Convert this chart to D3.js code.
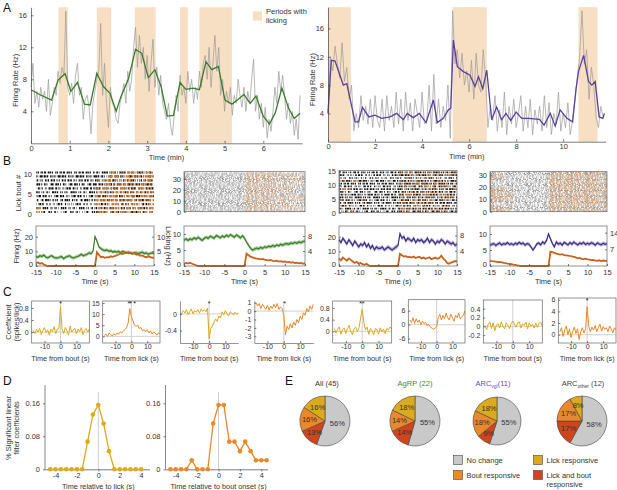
<!DOCTYPE html>
<html>
<head>
<meta charset="utf-8">
<script src="https://cdn.jsdelivr.net/npm/d3@7"></script>
<style>
body { margin: 0; background: #fff; }
svg { font-family: "Liberation Sans", Arial, sans-serif; }
</style>
</head>
<body>
<script>

// ---------- A: firing rate over a session
const aLickLeft = [[0.71, 0.95], [1.70, 2.07], [2.68, 3.22], [3.85, 4.05], [4.35, 5.19]]
const aLickRight = [[0, 0.97], [5.30, 6.75], [10.65, 11.46]]
// raw rate, one value every 0.05 min
const aRawLeft = [7,10,5,6.5,4.5,7,5.5,6.5,4,8, 3.5,5,7,6,9,7.5,9.5,8.5,16.5,7,
    6,7.5,5,8.5,10,6,7,3,5.5,6, 4.5,1.2,5,6.5,8,9,15,6,10,5,
    2,7,5,4.5,3,2.5,5,6,7.5,5, 9,6.5,8,12,14.5,9.5,13.5,10,12,8,
    11,6.5,10,13,7,9.5,6,8.5,5,4, 3,5,2.5,1,3.5,6,4,8.5,6,7,
    5,9,6.5,8,5,7,5.5,9,7,10, 11,8,12,7,10,13.5,9,12,6,8,
    4,6.5,5,7,3.5,6,5,8,6,4.5, 7,4,6.5,5,8,10.5,4,6,3,5,
    2,4.5,0.7,3,1.5,4,7,5,9,6.5, 8.5,6,3,5,2.5,4,1,3,0.5,6]
// raw rate, one value every 0.1 min
const aRawRight = [4,12,10,13.5,11,9,14,8.5,10.5,6, 8,1.5,4,2,6.5,3,5,2.5,6,2,
    6.5,3,2,6,1.5,6.5,3,5,2,7, 2.5,6,1.5,7,3,5.5,1.5,6,4,2,
    7,2.5,3,8,1.5,9.5,2.5,6,2,5, 3,8,0.5,18.5,11,13,9,12.5,8,10,
    7,11.5,6,12.5,8,7,13,9,2,5, 3,6.5,1.5,4.5,2,7,1,5,2.5,6,
    2,4,6.5,1.5,5,2,6,1,4.5,2.5, 5,1.5,6.5,2,5.5,1,4,2.5,7,1.5,
    4,2,5.5,1,3,6,9,12,18.5,11, 13,6,10.5,8,3.5,2,5,3.5]
const aSmoothLeftT = [0,0.22,0.53,0.7,0.88,1.03,1.2,1.38,1.53,1.7,1.87,2.04,2.2,2.32,2.52,2.7,2.86,3.03,3.2,3.36,3.52,3.68,3.85,4.0,4.19,4.35,4.52,4.67,4.84,5.01,5.19,5.33,5.5,5.66,5.81,6.0,6.16,6.31,6.48,6.65,6.8,6.95]
const aSmoothLeftHz = [6.7,6.1,5.4,7.9,8.7,6.5,7.6,4.9,4.8,8.75,7.1,6.25,4.0,5.8,8.1,11.75,11.25,8.2,9.2,7.1,3.4,3.5,7.6,6.75,6.9,6.7,10.2,9.2,9.6,5.4,4.9,5.4,6.1,5.0,5.9,3.4,2.4,3.8,6.9,4.4,3.1,3.75]
const aSmoothRightT = [0,0.14,0.3,0.65,0.8,1.15,1.3,1.46,1.74,2.0,2.28,2.64,2.92,3.2,3.37,3.63,3.88,4.17,4.48,4.65,4.9,5.12,5.22,5.33,5.5,5.76,6.04,6.25,6.4,6.58,6.75,6.96,7.17,7.38,7.57,7.77,8.0,8.24,8.52,8.99,9.19,9.45,9.66,9.87,10.16,10.4,10.55,10.65,10.87,11.08,11.22,11.36,11.53,11.69,11.75]
const aSmoothRightHz = [4.0,11.5,11.4,8.0,8.2,2.8,2.8,4.85,3.5,3.75,3.3,3.5,4.0,3.1,4.0,3.4,4.0,2.7,5.9,2.7,3.3,4.5,4.7,14.35,10.6,9.9,9.4,7.8,9.2,7.5,10.1,3.1,4.9,3.1,4.0,3.0,4.2,3.3,3.3,3.15,2.35,4.0,2.2,4.5,3.3,2.8,7.5,9.9,12.2,8.5,8.0,8.5,3.5,3.3,4.0]

// ---------- B: rasters (per row: ink density of spikes, lick bout start/end, licks before bout)
const b1SpikePre = [0.45,0.5,0.45,0.6,0.55,0.5,0.65,0.6,0.55,0.7,0.65]
const b1SpikePost = [0.5,0.55,0.45,0.6,0.6,0.55,0.65,0.6,0.6,0.65,0.6]
const b1Start = [0,0.5,0,0.5,0,1,0,2,0.5,3,4]
const b1End = [15,15,15,15,15,15,15,15,15,15,15]
const b1Lead = [-12.5,-13.5,-15,-15,-15,-15,-15,-15,-15,-15,-15]
const b2Spike = [0.6, 0.5]
const b2Start = [0,0,0.3,0,0,0.5,0,0,0,0.2,0,0,0,0.4,0,0,0,0,0.3,0,0,0,0,0.5,0,0,0,0,0.2,0,0,0,0.3,0,0,0]
const b2End = [15,9,15,6,12,15,8,15,11,5,15,14,7,15,10,15,13,6,15,9,15,12,15,8,15,11,4,15,10,15,14,7,15,12,15,9]
const b2Lead = [-15,-15,-15,-13,-15,-15,-15,-15,-15,-15,-15,-15,-15,-15,-15,-15,-15,-13,-15,-15,-15,-15,-15,-15,-15,-15,-15,-15,-15,-13,-15,-15,-15,-15,-15,-15]
const b3SpikePre = [0.55,0.6,0.5,0.65,0.55,0.6,0.7,0.5,0.6,0.55,0.65,0.6,0.5,0.6,0.55]
const b3SpikePost = [0.6,0.65,0.55,0.7,0.6,0.65,0.7,0.55,0.65,0.6,0.7,0.65,0.55,0.65,0.6]
const b3Start = [0,0,0.5,0,1,0,0,2,0,0.5,0,0,1.5,0,0]
const b3End = [15,12,15,9,15,14,15,11,15,15,13,15,10,15,15]
const b3Lead = [-10,-15,-12,-15,-8,-15,-13,-15,-11,-15,-15,-9,-15,-14,-15]
const b4Spike = [0.55, 0.55]
const b4Start = [0,0,0,0,0,0,0,0,0,0,0,0,0,0,0,0,0,0,0,0,0,0,0,0,0,0,0,0,0,0,0,0,0]
const b4End = [15,15,14,15,15,12,15,15,15,13,15,15,15,15,11,15,15,15,14,15,15,15,15,15,12,15,15,15,15,13,15,15,15]
const b4Lead = [-10,-11,-9,-10,-12,-15,-15,-15,-9,-10,-9.5,-11,-9,-10,-9,-12,-10,-9,-11,-10,-15,-15,-15,-15,-15,-15,-11,-12,-10,-11,-12,-15,-15]

// ---------- B: mean firing and licking, one value every 0.5 s from -15 to 15
const bRate1 = [6.5,6,7,6.5,7.5,6,5.5,6.5,7,6,5.5, 5.5,6,6.5,5,6,6.5,7,6,5.5,6, 6.5,7,8,7,7.5,8,9,8.5,10,20, 17,13,12,11,10.5,11,10,10.5,9.5,10, 9.5,10,9,10,9.5,9,9.5,9,8.5,9, 9,8.5,9,9.5,8.5,9,8,8.5,9,8.5]
const bLick1 = [1,1.2,0.8,1,0.5,0.2,0,0,0,0,0, 0,0,0,0,0,0,0,0,0,0, 0,0,0,0,0,0,0,0,0,0, 4.7,3.8,3,3.2,2.8,3,2.9,3.3,3.1,3.4, 3.6,3.9,4.3,4.1,4.4,4.6,4.3,4.5,4.2,4.4, 3.8,4,3.5,3.6,3.2,3,3.3,3.1,2.8,2.9]
const bRate2 = [8,8.5,8,8.5,8.2,8.8,8.4,9,8.5,8,8.6, 9,8.6,9.3,9,8.7,9.5,9.2,8.8,9.4,9, 9.6,9.2,9.8,9.4,9,9.7,9.3,8.8,9.5,8.7, 7.5,6.5,5.5,5,5.3,5.6,5.4,5.8,5.5,6, 5.8,6.2,6,6.4,6.1,6.6,6.3,6.8,6.5,6.9, 7,6.8,7.2,7,7.4,7.1,7.5,7.3,7.6,7.8]
const bLick2 = [0.6,0.8,0.7,0.9,0.6,0.4,0.2,0,0,0,0, 0,0,0,0,0,0,0,0,0,0, 0,0,0,0,0,0,0,0,0,0, 3.3,2.9,2.5,2.3,2.1,2,1.9,1.8,1.9,1.7, 1.6,1.5,1.6,1.4,1.3,1.4,1.2,1.3,1.1,1.2, 1,1.1,0.9,1,0.8,0.9,0.7,0.8,0.6,0.7]
const bRate3 = [18,16,19,17,15,18,16,14,17,15,13, 15,14,16,13,15,12,14,11,13,12, 12,13,11,12,13,12,11,12,13,14, 22,19,20,17,19,18,17,19,16,18, 17,18,16,17,19,16,18,17,15,17, 16,18,17,15,17,16,15,16,14,15]
const bLick3 = [2,1.5,2.2,1.8,1.4,2,1.6,1.2,0.8,1.1,0.6, 0.8,0.5,0.3,0.6,0.2,0,0,0,0,0, 0,0,0,0,0,0,0,0,0,0, 3.2,2.8,2.5,2.6,2.3,2.4,2.2,2.5,2.1,2.3, 2.4,2,2.2,1.9,2.1,2.3,1.8,2,2.2,1.9, 2.1,2.7,2,1.5,0.8,0.6,0.9,1.1,1.3,1.2]
const bRate4 = [6.5,6.8,7,6.4,6.9,7.2,6.6,7,6.8,7.3,6.7, 7,6.6,7.1,6.8,7.4,6.9,7.2,6.5,7,6.8, 6,5,5.8,6.9,7.2,6.6,7.5,7,8,10, 8.5,7,6,7.5,6.8,7.2,6.5,7.4,7,6.6, 7.3,6.8,7.5,7,6.6,7.2,6.9,7.4,6.7,7.1, 6.8,7.3,7,6.5,7.2,6.9,6.6,7.1,6.8,7]
const bLick4 = [2.2,2,1.9,1.8,1.6,1.7,1.5,1.3,1.2,1,0.9, 0.8,0.6,0.5,0.3,0.2,0,0,0,0,0, 0,0,0,0,0,0,0,0,0,0, 6,5.8,5.5,5.2,5,4.8,5,4.6,4.5,4.4, 4.2,4,3.8,3.6,3.2,3.4,3,2.9,3.1,2.8, 2.7,2.5,2.6,2.3,2.2,2.4,2.1,2.3,2.2,2]
const bSem = [1.2, 0.6, 1.5, 0.6]

// ---------- C: linear filter coefficients, one value per second from -17 to 18
const c1 = [0.05,-0.05,0.1,0,0.12,-0.08,0.05,0.15,-0.02,0.08,-0.1,0.1,0.02,0.18,-0.05,0.1,0.12,0.85,0.1,-0.05,0.15,0.05,-0.1,0.2,0,0.08,0.12,-0.05,0.1,0.02,0.15,-0.08,0.05,0.12,0,0.1]
const c2 = [0.5,1,0,1.5,0.8,0.2,1.2,0.5,1.5,1,2,1.5,2.5,3,4,6,12.5,9,7,5,4.5,5,3.5,4,2.5,3,2,3,1.5,2.5,1,2,1.5,0.5,1.5,1]
const c3 = [0,0.08,0.02,0.1,-0.02,0.06,0.12,0,0.08,0.04,0.1,0.02,0.12,0.06,0.1,0.05,0.14,-0.6,-0.35,-0.3,-0.2,-0.12,-0.18,-0.05,-0.1,0.05,-0.02,0.08,0,-0.05,0.05,0.02,-0.03,0.04,0,0.02]
const c4 = [1,0.6,0.9,0.3,0.8,0.5,0.2,0.7,0.1,0.6,0.3,0.8,0.4,0.9,0.2,0.5,0.3,-0.5,-2.8,-1.8,-2.2,-1.5,-2,-1.3,-1.7,-1,-1.4,-0.6,-1,-0.2,-0.5,0.3,-0.1,0.6,0.2,0.8]
const c5 = [0.1,-0.05,0.08,0.15,-0.1,0.05,0.12,-0.08,0.1,0.2,0,-0.12,0.08,0.15,0,0.1,0.45,0.75,0.3,0.05,0.15,-0.1,0.1,0.02,-0.12,0.1,0.05,-0.1,0.12,-0.02,0.08,-0.08,0.1,0.05,0.15,0.08]
const c6 = [2,1,3,0.5,2.5,1,2,0,1.5,0.5,1,-0.5,0,-1,-1.5,-2,-1.5,-1,3,4.5,2,4,2.5,5,3,2,4.5,3,1.5,4,3,5,2.5,3.5,4,6]
const c7 = [0.02,-0.08,0.05,0.1,-0.05,0.08,-0.1,0.03,0.06,-0.04,0.1,0,-0.06,0.08,0.02,-0.05,0.06,0.12,0.05,-0.02,0.08,0.1,-0.04,0.06,0.02,0.1,-0.06,0.08,0,0.05,-0.04,0.07,-0.02,0.06,0.1,0]
const c8 = [0.5,1.2,-0.3,0.8,1.5,0,1,-0.5,0.6,1.3,0.2,1,-0.8,0.5,1.2,0.3,1,4.8,1.5,0.5,1.3,0.8,1.6,0.5,1.2,1.8,0.6,1.4,0.9,1.2,0.5,1.5,1,0.3,1.2,0.8]

// ---------- D: fraction of significant coefficients
const dLickT = [-4.5,-4,-3.5,-3,-2.5,-2,-1.5,-1,-0.5,0,0.5,1,1.5,2,2.5,3,3.5,4]
const dLickV = [0,0,0,0,0,0,0,0.067,0.133,0.156,0.111,0.044,0,0,0,0,0,0]
const dBoutT = [-4.5,-4,-3.5,-3,-2.5,-2,-1.5,-1,-0.5,0,0.5,1,1.5,2,2.5,3,3.5,4,4.5]
const dBoutV = [0,0,0,0,0.022,0,0,0,0.111,0.156,0.156,0.067,0.067,0.044,0.067,0.044,0.022,0.022,0.022]

// ---------- E: pies (no change, lick and bout, bout, lick)
const eCategories = ['No change', 'Lick and bout responsive', 'Bout responsive', 'Lick responsive']
const eAll = [56, 13, 16, 16]
const eAgrp = [55, 14, 14, 18]
const eVglut = [55, 9, 18, 18]
const eOther = [58, 17, 17, 8]

const GOLD = '#dcaa1e', ORANGE = '#e8892b', RED = '#cf451d', GREY = '#c9c9c9'
const GREEN = '#3b7a2c', PURPLE = '#3e2d80', LICK = '#c8621c'
const FONT = '"Liberation Sans", Arial, sans-serif'

const svg = d3.select('body').append('svg').attr('width', 617).attr('height', 490)
svg.append('rect').attr('width', 617).attr('height', 490).attr('fill', '#fff')

function styleAxis(g, fs) {
    g.attr('font-family', FONT).attr('font-size', fs || 7)
    g.selectAll('.domain').attr('stroke', '#444').attr('stroke-width', 0.7)
    g.selectAll('.tick line').attr('stroke', '#444').attr('stroke-width', 0.7)
    g.selectAll('.tick text').attr('fill', '#333')
    return g
}
function text(x, y, s, o) {
    o = o || {}
    const t = svg.append('text').attr('x', x).attr('y', y).text(s)
        .attr('font-size', o.size || 7.5).attr('fill', o.fill || '#333')
        .attr('text-anchor', o.anchor || 'middle')
    if (o.rot) t.attr('transform', `rotate(${o.rot},${x},${y})`)
    return t
}
const fmt = d => String(d)

// ================= panel A
text(3, 12, 'A', { size: 12, anchor: 'start', fill: '#111' })

function drawSession(o) {
    const x = d3.scaleLinear([0, o.xMax], [o.x0, o.x1])
    const y = d3.scaleLinear([0, o.yMax], [o.y0, o.y1])
    const g = svg.append('g')
    g.selectAll('rect').data(o.licks).enter().append('rect')
        .attr('x', d => x(d[0])).attr('width', d => x(d[1]) - x(d[0]))
        .attr('y', o.y1).attr('height', o.y0 - o.y1).attr('fill', '#f7dfc3')
    g.append('path').datum(o.raw)
        .attr('d', d3.line().x((d, i) => x(i * o.step)).y(d => y(d)))
        .attr('fill', 'none').attr('stroke', '#9a9a9a').attr('stroke-width', 0.7)
    g.append('path').datum(o.smoothT)
        .attr('d', d3.line().x(d => x(d)).y((d, i) => y(o.smoothHz[i])))
        .attr('fill', 'none').attr('stroke', o.color).attr('stroke-width', 1.3)
    styleAxis(g.append('g').attr('transform', `translate(0,${o.y0})`)
        .call(d3.axisBottom(x).tickValues(o.xTicks).tickFormat(fmt).tickSize(-2.5).tickSizeOuter(0).tickPadding(2)), 7.5)
    styleAxis(g.append('g').attr('transform', `translate(${o.x0},0)`)
        .call(d3.axisLeft(y).tickValues([4, 8, 12, 16]).tickFormat(fmt).tickSize(-2.5).tickSizeOuter(0).tickPadding(4)), 7.5)
    text(o.x0 - 13, (o.y0 + o.y1) / 2 + 5, 'Firing Rate (Hz)', { rot: -90, size: 7.5 })
    text((o.x0 + o.x1) / 2, o.y0 + 17, 'Time (min)', { size: 7.5 })
}
drawSession({ x0: 31, x1: 302, xMax: 7, y0: 143.3, y1: 7.3, yMax: 17, licks: aLickLeft, raw: aRawLeft, step: 0.05,
    smoothT: aSmoothLeftT, smoothHz: aSmoothLeftHz, color: GREEN, xTicks: [0, 1, 2, 3, 4, 5, 6] })
drawSession({ x0: 328, x1: 605.5, xMax: 11.8, y0: 141.7, y1: 7.2, yMax: 19, licks: aLickRight, raw: aRawRight, step: 0.1,
    smoothT: aSmoothRightT, smoothHz: aSmoothRightHz, color: '#5b3f98', xTicks: [0, 2, 4, 6, 8, 10] })

svg.append('rect').attr('x', 253).attr('y', 11.5).attr('width', 9).attr('height', 9).attr('fill', '#f7dfc3')
text(266, 14, 'Periods with', { anchor: 'start', size: 7.5 })
text(266, 23, 'licking', { anchor: 'start', size: 7.5 })

// ================= panel B
text(3, 165, 'B', { size: 12, anchor: 'start', fill: '#111' })

// irregular dash lengths so that the rows read as scattered ticks, not a grid
const texture = [0.9, 2.3, 1.4, 0.6, 3.1, 1.8, 0.7, 2.6, 1.2, 4.0, 0.8, 1.9, 2.9, 1.1, 0.5, 2.2]
function ink(g, x, y, a, b, fill, color, w, seed) {
    if (b <= a || fill <= 0) return
    const dash = []
    for (let k = 0; k < 8; k++) {
        const d = texture[(seed * 5 + k * 3) % 16] * fill * 1.1
        const gp = texture[(seed * 3 + k * 7 + 4) % 16] * (1 - fill) * 1.6
        dash.push(Math.max(0.45, d).toFixed(2), Math.max(0.3, gp).toFixed(2))
    }
    g.append('line').attr('x1', x(a)).attr('x2', x(b)).attr('y1', y).attr('y2', y)
        .attr('stroke', color).attr('stroke-width', w)
        .attr('stroke-dasharray', dash.join(' '))
        .attr('stroke-dashoffset', (seed * 2.7) % 11)
}

function drawRaster(o) {
    const x = d3.scaleLinear([-15, 15], [o.x0, o.x1])
    const y = d3.scaleLinear([0, o.yMax], [o.y0, o.y1])
    const g = svg.append('g')
    const n = o.start.length
    const rowH = Math.min(2.2, (o.y0 - o.y1) / o.yMax * o.rowFill)
    for (let i = 0; i < n; i++) {
        const yy = y(i + 0.5)
        const pre = o.pre[i] !== undefined ? o.pre[i] : o.pre[0]
        const post = o.post[i] !== undefined ? o.post[i] : o.post[0]
        ink(g, x, yy, -15, 0, pre, o.spikeColor, rowH, i)
        ink(g, x, yy, 0, 15, post, o.spikeColor, rowH, i + 7)
        if (o.lead[i] > -15) ink(g, x, yy, -15, o.lead[i], o.lickFill, o.lickColor, rowH, i + 3)
        ink(g, x, yy, o.start[i], o.end[i], o.lickFill, o.lickColor, rowH, i + 11)
    }
    if (o.frame) g.append('rect').attr('x', o.x0).attr('y', o.y1).attr('width', o.x1 - o.x0).attr('height', o.y0 - o.y1)
        .attr('fill', 'none').attr('stroke', '#666').attr('stroke-width', 0.7)
    styleAxis(g.append('g').attr('transform', `translate(${o.x0 - (o.frame ? 0 : 1)},0)`)
        .call(d3.axisLeft(y).tickValues(o.ticks).tickFormat(fmt).tickSize(o.frame ? -2 : 0).tickSizeOuter(0).tickPadding(3)), 7.5)
        .select('.domain').attr('stroke', o.frame ? '#666' : 'none')
}

drawRaster({ x0: 36, x1: 154, y0: 214, y1: 170.5, yMax: 11, ticks: [0, 5, 10], pre: b1SpikePre, post: b1SpikePost, rowFill: 0.62,
    start: b1Start, end: b1End, lead: b1Lead, spikeColor: '#111', lickColor: '#d27a36', lickFill: 0.55, frame: false })
drawRaster({ x0: 184, x1: 305, y0: 211.7, y1: 171.7, yMax: 36.7, ticks: [0, 10, 20, 30], pre: [b2Spike[0]], post: [b2Spike[1]], rowFill: 0.8,
    start: b2Start, end: b2End, lead: b2Lead, spikeColor: '#8c8c8c', lickColor: '#dc9a64', lickFill: 0.45, frame: true })
drawRaster({ x0: 339, x1: 457, y0: 212.7, y1: 170.5, yMax: 15.2, ticks: [0, 5, 10, 15], pre: b3SpikePre, post: b3SpikePost, rowFill: 0.62,
    start: b3Start, end: b3End, lead: b3Lead, spikeColor: '#111', lickColor: '#d27a36', lickFill: 0.35, frame: true })
drawRaster({ x0: 490, x1: 607, y0: 211.7, y1: 171.7, yMax: 33, ticks: [0, 10, 20, 30], pre: [b4Spike[0]], post: [b4Spike[1]], rowFill: 0.8,
    start: b4Start, end: b4End, lead: b4Lead, spikeColor: '#8c8c8c', lickColor: '#dc9a64', lickFill: 0.5, frame: true })
text(21, 193, 'Lick bout #', { rot: -90, size: 7.5 })

const tB = d3.range(61).map(i => -15 + i * 0.5)
function drawMean(o) {
    const x = d3.scaleLinear([-15, 15], [o.x0, o.x1])
    const yl = d3.scaleLinear([0, o.lMax], [266, 226])
    const yr = d3.scaleLinear([0, o.rMax], [266, 226])
    const g = svg.append('g')
    g.append('path').datum(o.rate)
        .attr('d', d3.area().x((d, i) => x(tB[i])).y0(d => yl(d - o.sem)).y1(d => yl(d + o.sem)))
        .attr('fill', o.band)
    g.append('path').datum(o.rate)
        .attr('d', d3.line().x((d, i) => x(tB[i])).y(d => yl(d)))
        .attr('fill', 'none').attr('stroke', o.color).attr('stroke-width', 1.2)
    g.append('path').datum(o.lick)
        .attr('d', d3.line().x((d, i) => x(tB[i])).y(d => yr(d)))
        .attr('fill', 'none').attr('stroke', LICK).attr('stroke-width', 1.8)
    g.append('rect').attr('x', o.x0).attr('y', 226).attr('width', o.x1 - o.x0).attr('height', 40)
        .attr('fill', 'none').attr('stroke', '#666').attr('stroke-width', 0.7)
    styleAxis(g.append('g').attr('transform', 'translate(0,266)')
        .call(d3.axisBottom(x).tickValues([-15, -10, -5, 0, 5, 10, 15]).tickFormat(fmt).tickSize(-2).tickSizeOuter(0).tickPadding(3.5)), 7.5)
    styleAxis(g.append('g').attr('transform', `translate(${o.x0},0)`)
        .call(d3.axisLeft(yl).tickValues(o.lTicks).tickFormat(fmt).tickSize(-2).tickSizeOuter(0).tickPadding(3)), 7.5)
        .selectAll('.tick text').attr('dy', v => v === 0 ? '0.1em' : '0.32em')
    styleAxis(g.append('g').attr('transform', `translate(${o.x1},0)`)
        .call(d3.axisRight(yr).tickValues(o.rTicks).tickFormat(fmt).tickSize(-2).tickSizeOuter(0).tickPadding(3)), 7.5)
    g.selectAll('.domain').attr('stroke', 'none')
    text((o.x0 + o.x1) / 2, 284, 'Time (s)', { size: 7.5 })
}
drawMean({ x0: 36, x1: 154, lMax: 27.3, rMax: 13.65, lTicks: [0, 10, 20], rTicks: [5, 10], rate: bRate1, lick: bLick1, sem: bSem[0], color: GREEN, band: '#a8cf9c' })
drawMean({ x0: 184, x1: 305, lMax: 12.5, rMax: 10.7, lTicks: [0, 5, 10], rTicks: [4, 8], rate: bRate2, lick: bLick2, sem: bSem[1], color: GREEN, band: '#a8cf9c' })
drawMean({ x0: 339, x1: 457, lMax: 27.3, rMax: 10.5, lTicks: [0, 10, 20], rTicks: [4, 8], rate: bRate3, lick: bLick3, sem: bSem[2], color: PURPLE, band: '#b9b1da' })
drawMean({ x0: 490, x1: 607, lMax: 12.5, rMax: 16.8, lTicks: [0, 5, 10], rTicks: [7, 14], rate: bRate4, lick: bLick4, sem: bSem[3], color: PURPLE, band: '#b9b1da' })
text(19, 246, 'Firing (Hz)', { rot: -90, size: 7.5 })
text(166, 246, 'Licking (Hz)', { rot: 90, size: 7.5 })

// ================= panel C
text(3, 296, 'C', { size: 12, anchor: 'start', fill: '#111' })
text(11, 322, 'Coefficient', { rot: -90, size: 7.5 })
text(19, 322, '(spikes/lick)', { rot: -90, size: 7.5 })

const tC = d3.range(36).map(i => -17 + i)
function drawFilter(o) {
    const x = d3.scaleLinear([-18, 18], [o.x0, o.x1])
    const y = d3.scaleLinear(o.dom, [343, o.top])
    const g = svg.append('g')
    g.append('line').attr('x1', o.x0).attr('x2', o.x1).attr('y1', y(0)).attr('y2', y(0)).attr('stroke', '#c4c4c4').attr('stroke-width', 0.8)
    g.append('line').attr('x1', x(0)).attr('x2', x(0)).attr('y1', o.top).attr('y2', 343).attr('stroke', '#c4c4c4').attr('stroke-width', 0.8)
    g.append('path').datum(o.values)
        .attr('d', d3.line().x((d, i) => x(tC[i])).y(d => y(d)))
        .attr('fill', 'none').attr('stroke', o.color).attr('stroke-width', 1)
    if (o.box) g.append('rect').attr('x', o.x0).attr('y', o.top).attr('width', o.x1 - o.x0).attr('height', 343 - o.top)
        .attr('fill', 'none').attr('stroke', '#666').attr('stroke-width', 0.7)
    styleAxis(g.append('g').attr('transform', 'translate(0,343)')
        .call(d3.axisBottom(x).tickValues([-10, 0, 10]).tickFormat(fmt).tickSize(-2).tickSizeOuter(0).tickPadding(1.5)), 7)
        .select('.domain').attr('stroke', o.box ? 'none' : '#666')
    styleAxis(g.append('g').attr('transform', `translate(${o.x0},0)`)
        .call(d3.axisLeft(y).tickValues(o.ticks).tickFormat(fmt).tickSize(-2).tickSizeOuter(0).tickPadding(3)), 7)
        .select('.domain').attr('stroke', o.box ? 'none' : '#666')
    o.stars.forEach(s => {
        g.append('text').attr('x', x(s)).attr('y', o.top + 5).attr('text-anchor', 'middle')
            .attr('font-size', 7).attr('fill', '#222').text('*')
    })
    text((o.x0 + o.x1) / 2, 361, o.label, { size: 7.2 })
}
drawFilter({ x0: 31.7, x1: 89.3, top: 301, dom: [-0.36, 1.03], ticks: [0, 0.4, 0.8], values: c1, color: GOLD, box: true, stars: [0], label: 'Time from bout (s)' })
drawFilter({ x0: 102.7, x1: 160, top: 301, dom: [-3, 15.9], ticks: [0, 5, 10, 15], values: c2, color: ORANGE, box: true, stars: [-1.5, -0.5, 2], label: 'Time from lick (s)' })
drawFilter({ x0: 180, x1: 238.3, top: 301, dom: [-0.7, 0.31], ticks: [-0.4, 0], values: c3, color: GOLD, box: false, stars: [0], label: 'Time from bout (s)' })
drawFilter({ x0: 254.3, x1: 313.3, top: 301, dom: [-3.8, 1.2], ticks: [-3, -2, -1, 0, 1], values: c4, color: ORANGE, box: false, stars: [0.5], label: 'Time from lick (s)' })
drawFilter({ x0: 332.7, x1: 391.7, top: 301, dom: [-0.4, 1.04], ticks: [0, 0.4, 0.8], values: c5, color: GOLD, box: true, stars: [-1, 0.5], label: 'Time from bout (s)' })
drawFilter({ x0: 408.3, x1: 465, top: 299.7, dom: [-7.85, 10.7], ticks: [-6, 0, 6], values: c6, color: ORANGE, box: true, stars: [], label: 'Time from lick (s)' })
drawFilter({ x0: 483.3, x1: 542.3, top: 300, dom: [-0.38, 0.6], ticks: [-0.2, 0, 0.2, 0.4], values: c7, color: GOLD, box: true, stars: [], label: 'Time from bout (s)' })
drawFilter({ x0: 558.3, x1: 616, top: 298, dom: [-1.42, 6.3], ticks: [0, 2, 4, 6], values: c8, color: ORANGE, box: true, stars: [0], label: 'Time from lick (s)' })

// ================= panel D
text(3, 385, 'D', { size: 12, anchor: 'start', fill: '#111' })
text(11, 428, '% Significant linear', { rot: -90, size: 7.5 })
text(19, 428, 'filter coefficients', { rot: -90, size: 7.5 })

function drawFraction(o) {
    const x = d3.scaleLinear([-5, 5], [o.zero - 53.5, o.zero + 53.5])
    const y = d3.scaleLinear([0, 0.2], [469.3, 386.8])
    const g = svg.append('g')
    g.append('line').attr('x1', x(0)).attr('x2', x(0)).attr('y1', 392).attr('y2', 469.3).attr('stroke', '#c4c4c4').attr('stroke-width', 0.8)
    g.append('line').attr('x1', o.ax).attr('x2', o.ax).attr('y1', 385).attr('y2', 469.3).attr('stroke', '#555').attr('stroke-width', 0.7)
    styleAxis(g.append('g').attr('transform', 'translate(0,469.3)')
        .call(d3.axisBottom(x).tickValues([-4, -2, 0, 2, 4]).tickFormat(fmt).tickSize(2).tickSizeOuter(0).tickPadding(1.5)), 7.2)
        .select('.domain').attr('d', `M${o.ax},0.5H${o.xEnd}`)
    styleAxis(g.append('g').attr('transform', `translate(${o.ax},0)`)
        .call(d3.axisLeft(y).tickValues([0, 0.08, 0.16]).tickFormat(fmt).tickSize(2).tickSizeOuter(0).tickPadding(3)), 7.5)
        .select('.domain').attr('stroke', 'none')
    g.append('path').datum(o.v)
        .attr('d', d3.line().x((d, i) => x(o.t[i])).y(d => y(d)))
        .attr('fill', 'none').attr('stroke', o.color).attr('stroke-width', 1.3)
    g.selectAll('circle').data(o.v).enter().append('circle')
        .attr('cx', (d, i) => x(o.t[i])).attr('cy', d => y(d)).attr('r', 2.3).attr('fill', o.color)
    text(o.zero, 488.5, o.label, { size: 7.3 })
}
drawFraction({ zero: 98.3, ax: 45, xEnd: 150, t: dLickT, v: dLickV, color: GOLD, label: 'Time relative to lick (s)' })
drawFraction({ zero: 218.5, ax: 165.5, xEnd: 268, t: dBoutT, v: dBoutV, color: ORANGE, label: 'Time relative to bout onset (s)' })

// ================= panel E
text(285, 385, 'E', { size: 12, anchor: 'start', fill: '#111' })
const pieColors = [GREY, RED, ORANGE, GOLD]
const pie = d3.pie().sort(null)
function drawPie(cx, cy, r, values) {
    const g = svg.append('g').attr('transform', `translate(${cx},${cy})`)
    const arcs = pie(values)
    g.selectAll('path').data(arcs).enter().append('path')
        .attr('d', d3.arc().innerRadius(0).outerRadius(r))
        .attr('fill', (d, i) => pieColors[i]).attr('stroke', '#444').attr('stroke-width', 0.6)
    const lab = d3.arc().innerRadius(0).outerRadius(r * 1.25)
    g.selectAll('text').data(arcs).enter().append('text')
        .attr('transform', (d, i) => {
            const c = i === 0 ? d3.arc().innerRadius(0).outerRadius(r * 1.0).centroid(d) : lab.centroid(d)
            return `translate(${c[0]},${c[1] + 2.5})`
        })
        .attr('text-anchor', 'middle').attr('font-size', 7.5).attr('fill', '#333')
        .text(d => d.data + '%')
}
drawPie(325, 421, 25, eAll)
drawPie(415, 421, 25, eAgrp)
drawPie(497, 421, 24, eVglut)
drawPie(582, 421, 25, eOther)

text(327, 386, 'All (45)', { size: 7.5 })
text(415, 386, 'AgRP (22)', { size: 7.5, fill: '#3c8a3c' })
const t3 = text(493, 386, 'ARC', { size: 7.5, fill: '#6a4aa8' })
t3.append('tspan').attr('font-size', 5).attr('dy', 1.5).text('vgl')
t3.append('tspan').attr('dy', -1.5).text('(11)')
const t4 = text(583, 386, 'ARC', { size: 7.5, fill: '#444' })
t4.append('tspan').attr('font-size', 5).attr('dy', 1.5).text('other')
t4.append('tspan').attr('dy', -1.5).text(' (12)')

// legend
const legendItems = [
    { i: 0, x: 453.5, y: 455.5, lines: ['No change'] },
    { i: 2, x: 453.5, y: 470.5, lines: ['Bout responsive'] },
    { i: 3, x: 533.5, y: 455.5, lines: ['Lick responsive'] },
    { i: 1, x: 533.5, y: 470.5, lines: ['Lick and bout', 'responsive'] }
]
legendItems.forEach(d => {
    svg.append('rect').attr('x', d.x).attr('y', d.y).attr('width', 9).attr('height', 9)
        .attr('fill', pieColors[d.i]).attr('stroke', '#444').attr('stroke-width', 0.6)
    d.lines.forEach((s, k) => text(d.x + 13, d.y + 7.5 + k * 8.5, s, { anchor: 'start', size: 7.5 }))
})
</script>
</body>
</html>
